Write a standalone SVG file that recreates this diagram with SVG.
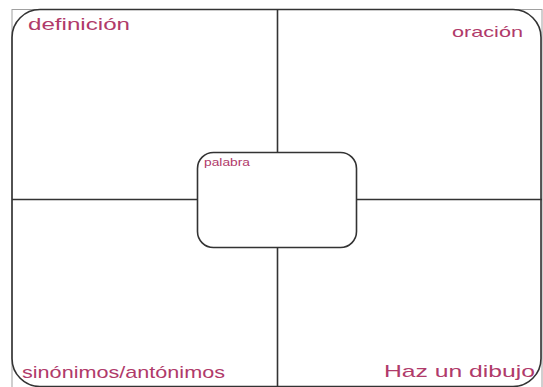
<svg xmlns="http://www.w3.org/2000/svg" width="543" height="387" viewBox="0 0 543 387">
<style>
.frame{fill:none;stroke:#a0a0a0;stroke-width:1}
.border{fill:none;stroke:#333;stroke-width:1.6}
.line{stroke:#333;stroke-width:1.6}
.lbl{font-family:"Comic Sans MS","Liberation Sans","DejaVu Sans",sans-serif;fill:#b03a6a}
</style>
<rect width="543" height="387" fill="#fff"/>
<rect class="frame" x="12" y="9.5" width="530" height="380"/>
<g id="connectors">
<line class="line" x1="277.5" y1="9.5" x2="277.5" y2="152.5"/>
<line class="line" x1="277.5" y1="247.5" x2="277.5" y2="387"/>
<line class="line" x1="12" y1="199.5" x2="197.5" y2="199.5"/>
<line class="line" x1="356.5" y1="199.5" x2="542" y2="199.5"/>
</g>
<g id="outer">
<rect class="border" x="12" y="9.5" width="529" height="377" rx="28" ry="28"/>
</g>
<g id="definicion">
<text class="lbl" x="28" y="30" font-size="17" textLength="102" lengthAdjust="spacingAndGlyphs">definición</text>
</g>
<g id="oracion">
<text class="lbl" x="452" y="37" font-size="15" textLength="71" lengthAdjust="spacingAndGlyphs">oración</text>
</g>
<g id="sinonimos">
<text class="lbl" x="22" y="378" font-size="17" textLength="203" lengthAdjust="spacingAndGlyphs">sinónimos/antónimos</text>
</g>
<g id="dibujo">
<text class="lbl" x="384" y="377" font-size="17" textLength="151" lengthAdjust="spacingAndGlyphs">Haz un dibujo</text>
</g>
<g id="palabra">
<rect class="border" x="197.5" y="152.5" width="159" height="95" rx="16" ry="16" fill="#fff"/>
<text class="lbl" x="204" y="166" font-size="10" textLength="46" lengthAdjust="spacingAndGlyphs">palabra</text>
</g>
</svg>
